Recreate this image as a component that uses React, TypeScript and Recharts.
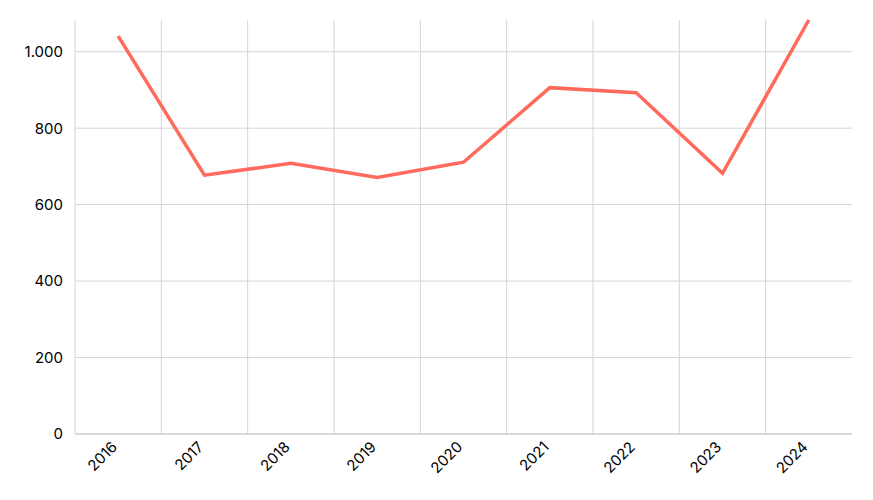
import React from "react";
import { LineChart, Line, XAxis, YAxis, CartesianGrid } from "recharts";

const years = ["2016", "2017", "2018", "2019", "2020", "2021", "2022", "2023", "2024"];
const values = [1041, 677, 708, 671, 711, 906, 893, 682, 1083];
const yTicks = [0, 200, 400, 600, 800, 1000];
const yMax = 1083;

const data = years.map((y, i) => ({ year: y, value: values[i] }));

const fmt = (v: number) => String(v).replace(/\B(?=(\d{3})+(?!\d))/g, ".");

const font = "Inter, 'Noto Sans', sans-serif";

const XTick = (props: any) => {
  const { x, y, payload } = props;
  const ax = x - 4;
  const ay = y + 4;
  return (
    <text
      x={ax}
      y={ay}
      transform={`rotate(-45, ${ax}, ${ay})`}
      textAnchor="end"
      dominantBaseline="central"
      fill="#000"
      fontSize={15}
      fontFamily={font}
    >
      {payload.value}
    </text>
  );
};

export default function App() {
  return (
    <div style={{ width: 857, height: 484 }}>
      <LineChart
        width={857}
        height={484}
        data={data}
        margin={{ top: 12, right: 13, left: 0, bottom: 8 }}
      >
        <CartesianGrid
          stroke="#d4d4d4"
          verticalCoordinatesGenerator={(props: any) => {
            const off = props.offset || {};
            const left = off.left ?? 67;
            const w = off.width ?? 777;
            return years.map((_, i) => left + (i * w) / years.length);
          }}
          horizontalCoordinatesGenerator={(props: any) => {
            const off = props.offset || {};
            const top = off.top ?? 12;
            const h = off.height ?? 414;
            return yTicks.map((t) => top + h * (1 - t / yMax));
          }}
        />
        <XAxis
          dataKey="year"
          scale="band"
          tickLine={false}
          axisLine={{ stroke: "#c8c8c8" }}
          height={50}
          interval={0}
          tick={<XTick />}
          tickMargin={0}
        />
        <YAxis
          width={67}
          domain={[0, yMax]}
          ticks={yTicks}
          tickFormatter={fmt}
          tickLine={false}
          axisLine={false}
          tickMargin={6}
          tick={{ fill: "#000", fontSize: 15, fontFamily: font }}
        />
        <Line
          type="linear"
          dataKey="value"
          stroke="#ff6a5c"
          strokeWidth={3.5}
          dot={false}
          isAnimationActive={false}
        />
      </LineChart>
    </div>
  );
}
